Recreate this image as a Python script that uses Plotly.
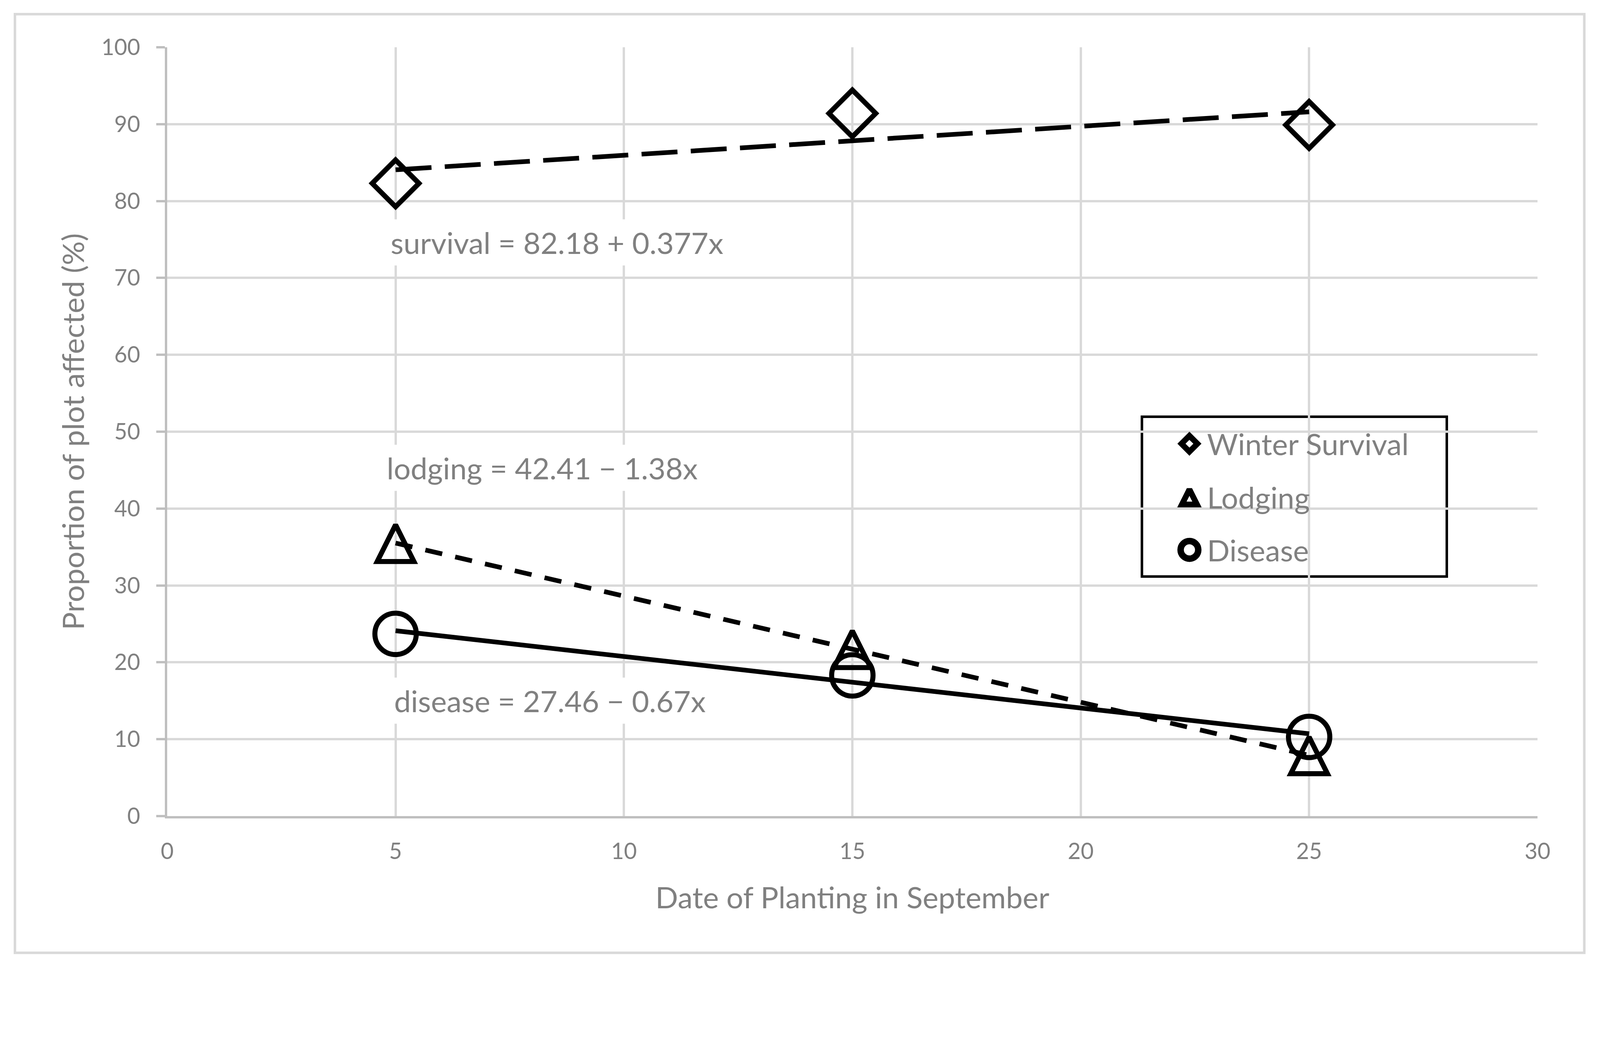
import plotly.graph_objects as go

# ---------------- data ----------------
x_dates = [5, 15, 25]
survival = [82.3, 91.4, 89.9]
lodging = [35.5, 21.7, 7.9]
disease = [23.7, 18.3, 10.3]

series_names = ["Winter Survival", "Lodging", "Disease"]
fit_intercepts = [82.18, 42.41, 27.46]
fit_slopes = [0.377, -1.38, -0.67]
fit_labels = ["survival = 82.18 + 0.377x", "lodging = 42.41 \u2212 1.38x", "disease = 27.46 \u2212 0.67x"]

x_ticks = [0, 5, 10, 15, 20, 25, 30]
y_ticks = [0, 10, 20, 30, 40, 50, 60, 70, 80, 90, 100]

x_title = "Date of Planting in September"
y_title = "Proportion of plot affected (%)"

# ---------------- layout constants ----------------
# design values are given in screenshot pixels (4446 x 2698); the page is
# laid out in CSS pixels, 4096 px wide, with the default 8 px body margin.
SCALE = 4096 / 4446
OFF = 8


def css(p):
    return p * SCALE


def pos(p):
    return p * SCALE - OFF


FW, FH = 4080, 2470
ML = pos(465)
MT = pos(131)
MR = FW - pos(4272)
MB = FH - pos(2268)

FONT = "Lato"
GREY = "#808080"
GRID = "#d9d9d9"
AXIS = "#bfbfbf"
FS_TICK = css(62)
FS_TEXT = css(83)


def px_x(p):
    return (pos(p) - ML) / (FW - ML - MR)


def px_y(p):
    return (FH - MB - pos(p)) / (FH - MT - MB)


styles = [
    dict(symbol="diamond-open", size=100, angle=0, standoff=0, dash="100px,37px",
         lsym=dict(symbol="diamond-open", size=34, angle=0, standoff=0, lw=16)),
    dict(symbol="arrow-down-open", size=102, angle=180, standoff=51, dash="48px,37px",
         lsym=dict(symbol="arrow-down-open", size=42, angle=180, standoff=21, lw=16)),
    dict(symbol="circle-open", size=115, angle=0, standoff=0, dash="solid",
         lsym=dict(symbol="circle-open", size=49, angle=0, standoff=0, lw=18)),
]
series_values = [survival, lodging, disease]


def dash_css(d):
    if d == "solid":
        return d
    return ",".join("%.1fpx" % css(float(v.replace("px", ""))) for v in d.split(","))


fig = go.Figure()

# trend lines (from the equation coefficients over the data range)
x_lo, x_hi = min(x_dates), max(x_dates)
for name, a, b, st in zip(series_names, fit_intercepts, fit_slopes, styles):
    fig.add_trace(go.Scatter(
        x=[x_lo, x_hi], y=[a + b * x_lo, a + b * x_hi],
        mode="lines", name=name + " trend", showlegend=False,
        line=dict(color="black", width=css(13), dash=dash_css(st["dash"])),
        hoverinfo="skip",
    ))

# data markers
for name, vals, st in zip(series_names, series_values, styles):
    fig.add_trace(go.Scatter(
        x=x_dates, y=vals, mode="markers", name=name, showlegend=False,
        marker=dict(symbol=st["symbol"], size=css(st["size"]), angle=st["angle"],
                    standoff=css(st["standoff"]), color="black",
                    line=dict(color="black", width=css(14))),
    ))

# ---------------- custom legend (screenshot-pixel coordinates on hidden axes) ----------------
leg_left, leg_right, leg_top, leg_bottom = 3173, 4020, 1158, 1602
leg_sym_x = 3305
leg_text_x = 3352
leg_rows_y = [1233, 1381, 1528]

for name, st, yy in zip(series_names, styles, leg_rows_y):
    ls = st["lsym"]
    fig.add_trace(go.Scatter(
        x=[leg_sym_x], y=[yy], xaxis="x2", yaxis="y2", mode="markers",
        showlegend=False, hoverinfo="skip",
        marker=dict(symbol=ls["symbol"], size=css(ls["size"]), angle=ls["angle"],
                    standoff=css(ls["standoff"]), color="black",
                    line=dict(color="black", width=css(ls["lw"]))),
    ))

annotations = []
for name, yy in zip(series_names, leg_rows_y):
    annotations.append(dict(
        x=leg_text_x, y=yy, xref="x2", yref="y2", text=name, showarrow=False,
        xanchor="left", yanchor="middle",
        font=dict(family=FONT, size=FS_TEXT, color=GREY),
    ))

# trend equation labels
label_pos = [(4.77, 74.6), (4.69, 45.3), (4.85, 15.0)]
for txt, (lx, ly) in zip(fit_labels, label_pos):
    annotations.append(dict(
        x=lx, y=ly, xref="x", yref="y", text=txt, showarrow=False,
        xanchor="left", yanchor="middle", bgcolor="white", borderpad=css(14),
        font=dict(family=FONT, size=FS_TEXT, color=GREY),
    ))

shapes = [
    # chart-area border
    dict(type="rect", xref="paper", yref="paper",
         x0=px_x(42), x1=px_x(4402), y0=px_y(2648), y1=px_y(39),
         line=dict(color=GRID, width=css(7)), fillcolor="rgba(0,0,0,0)", layer="below"),
    # legend box
    dict(type="rect", xref="paper", yref="paper",
         x0=px_x(leg_left), x1=px_x(leg_right), y0=px_y(leg_bottom), y1=px_y(leg_top),
         line=dict(color="black", width=css(7)), fillcolor="white", layer="between"),
]

fig.update_layout(
    width=FW, height=FH,
    margin=dict(l=ML, r=MR, t=MT, b=MB, autoexpand=False),
    paper_bgcolor="white", plot_bgcolor="white",
    showlegend=False,
    font=dict(family=FONT, color=GREY, size=FS_TICK),
    annotations=annotations, shapes=shapes,
    xaxis=dict(
        range=[0, 30], tickvals=x_ticks, ticktext=[str(v) for v in x_ticks],
        showgrid=True, gridcolor=GRID, gridwidth=css(7),
        showline=True, linecolor=AXIS, linewidth=css(6), zeroline=False,
        ticks="", ticklabelstandoff=round(css(39)),
        tickfont=dict(family=FONT, size=FS_TICK, color=GREY),
        title=dict(text=x_title, standoff=round(css(68)), font=dict(family=FONT, size=FS_TEXT, color=GREY)),
        automargin=False, fixedrange=True,
    ),
    yaxis=dict(
        range=[0, 100], tickvals=y_ticks, ticktext=[str(v) for v in y_ticks],
        showgrid=True, gridcolor=GRID, gridwidth=css(7),
        showline=True, linecolor=AXIS, linewidth=css(6), zeroline=False,
        ticks="outside", ticklen=round(css(24)), tickwidth=css(6), tickcolor=AXIS,
        ticklabelstandoff=round(css(33)),
        tickfont=dict(family=FONT, size=FS_TICK, color=GREY),
        title=dict(text=y_title, standoff=round(css(23)), font=dict(family=FONT, size=FS_TEXT, color=GREY)),
        automargin=False, fixedrange=True,
    ),
    xaxis2=dict(range=[465, 4272], overlaying="x", anchor="y2", visible=False, fixedrange=True),
    yaxis2=dict(range=[2268, 131], overlaying="y", anchor="x2", visible=False, fixedrange=True),
)

fig.write_html("out.html")
